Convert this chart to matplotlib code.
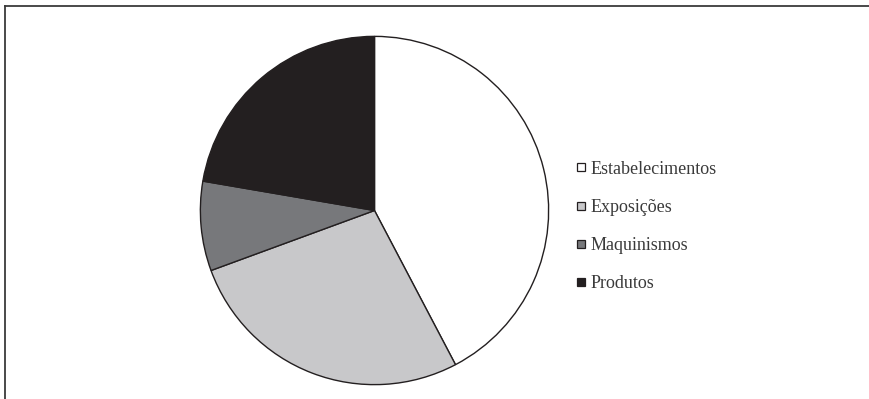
import matplotlib
matplotlib.use("Agg")
import matplotlib.pyplot as plt
from matplotlib.lines import Line2D
from matplotlib.font_manager import FontProperties

# Share of entries by category
categories = ["Estabelecimentos", "Exposições", "Maquinismos", "Produtos"]
shares = [42.3, 27.1, 8.3, 22.3]
colors = ["#ffffff", "#c8c8ca", "#77787b", "#231f20"]
edge = "#231f20"

W, H = 870, 399
fig = plt.figure(figsize=(W / 100, H / 100), dpi=100)

# Pie placed with centre (374.5, 210.5) px and radius 175 px
cx, cy, r = 374.5, 210.5, 175
ax = fig.add_axes([(cx - r) / W, (H - cy - r) / H, 2 * r / W, 2 * r / H])
ax.pie(shares, colors=colors, startangle=90, counterclock=False,
       wedgeprops=dict(edgecolor=edge, linewidth=1.0))
ax.set_xlim(-1.005, 1.005)
ax.set_ylim(-1.005, 1.005)
ax.set_aspect("equal")
ax.axis("off")

# Legend with small square swatches
font = FontProperties(family=["Liberation Serif", "DejaVu Serif"], size=13)
handles = [Line2D([], [], linestyle="none", marker="s", markersize=5.5,
                  markerfacecolor=c, markeredgecolor=edge, markeredgewidth=0.9)
           for c in colors]
fig.legend(handles, categories, loc="center left",
           bbox_to_anchor=(567 / W, 1 - 226.5 / H), frameon=False,
           prop=font, labelspacing=1.18, handlelength=0.6,
           handletextpad=0.18, borderpad=0, labelcolor="#3a3a3a")

# Border lines along the top and left of the figure
fig.add_artist(Line2D([5.5 / W, 1], [1 - 5.5 / H, 1 - 5.5 / H],
                      transform=fig.transFigure, color="#3a3a3a", linewidth=1.3))
fig.add_artist(Line2D([5.5 / W, 5.5 / W], [0, 1 - 5.5 / H],
                      transform=fig.transFigure, color="#3a3a3a", linewidth=1.3))

fig.savefig("out.png", dpi=100, facecolor="white")
